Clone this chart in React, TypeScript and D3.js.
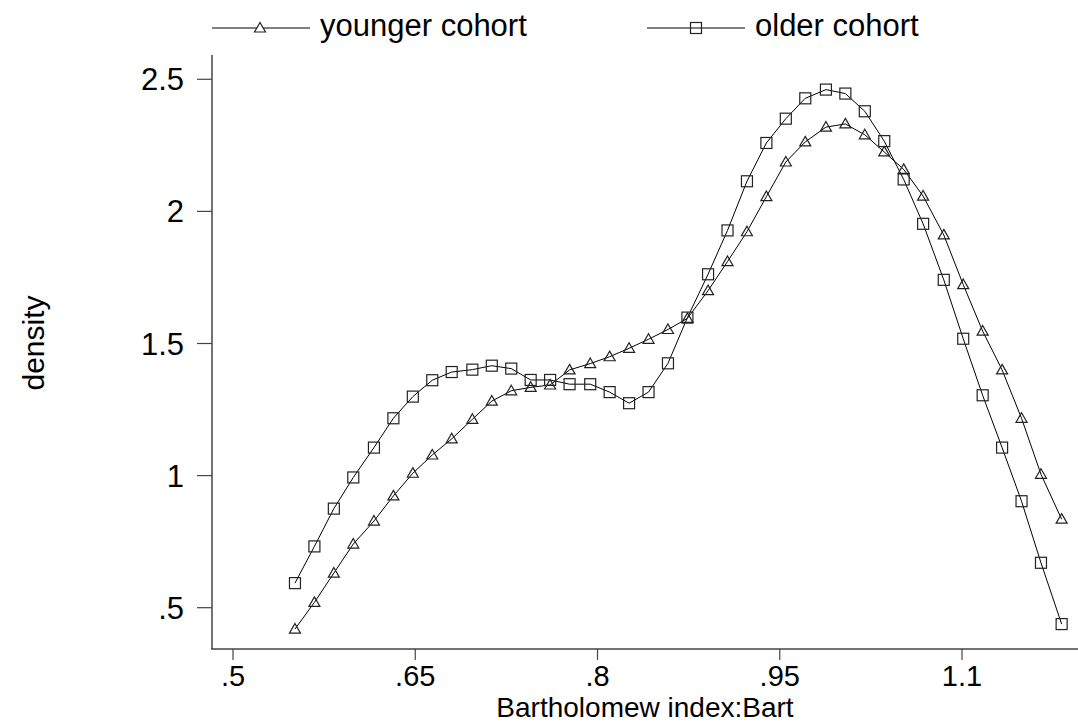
import React from "react";
import * as d3 from "d3";

const xGrid = [
  0.551, 0.567, 0.583, 0.599, 0.616, 0.632, 0.648, 0.664, 0.68, 0.697,
  0.713, 0.729, 0.745, 0.761, 0.777, 0.794, 0.81, 0.826, 0.842, 0.858,
  0.874, 0.891, 0.907, 0.923, 0.939, 0.955, 0.971, 0.988, 1.004, 1.02,
  1.036, 1.052, 1.068, 1.085, 1.101, 1.117, 1.133, 1.149, 1.165, 1.182,
];

const younger = [
  0.419, 0.52, 0.631, 0.741, 0.828, 0.923, 1.009, 1.078, 1.139, 1.213,
  1.282, 1.321, 1.334, 1.343, 1.4, 1.424, 1.45, 1.482, 1.516, 1.553,
  1.595, 1.7, 1.81, 1.923, 2.056, 2.187, 2.263, 2.319, 2.331, 2.29,
  2.225, 2.159, 2.058, 1.911, 1.723, 1.547, 1.4, 1.217, 1.005, 0.835,
];

const older = [
  0.593, 0.732, 0.875, 0.993, 1.106, 1.217, 1.299, 1.361, 1.392, 1.401,
  1.416, 1.405, 1.362, 1.362, 1.346, 1.346, 1.316, 1.274, 1.316, 1.425,
  1.598, 1.762, 1.928, 2.114, 2.259, 2.351, 2.428, 2.461, 2.446, 2.379,
  2.266, 2.121, 1.953, 1.741, 1.518, 1.304, 1.106, 0.903, 0.67, 0.438,
];

const xTicks = [0.5, 0.65, 0.8, 0.95, 1.1];
const xTickLabels = [".5", ".65", ".8", ".95", "1.1"];
const yTicks = [0.5, 1, 1.5, 2, 2.5];
const yTickLabels = [".5", "1", "1.5", "2", "2.5"];
const seriesNames = ["younger cohort", "older cohort"];

const W = 1078;
const H = 724;
const FONT = "'Liberation Sans', Arial, Helvetica, sans-serif";
const FS = 31;

const xS = d3.scaleLinear().domain([0.5, 1.1]).range([233, 962]);
const yS = d3.scaleLinear().domain([0.5, 2.5]).range([607.7, 79.3]);

const triPath = (cx: number, cy: number, s = 11) => {
  const h = s * 0.87;
  return `M${cx},${cy - h * 0.58}L${cx + s / 2},${cy + h * 0.42}L${cx - s / 2},${cy + h * 0.42}Z`;
};

const Square = ({ cx, cy, s = 11 }: { cx: number; cy: number; s?: number }) => (
  <rect x={cx - s / 2} y={cy - s / 2} width={s} height={s} fill="none" stroke="#222" strokeWidth={1.2} />
);

export default function App() {
  const line = d3
    .line<number>()
    .x((_, i) => xS(xGrid[i]))
    .y((d) => yS(d));

  const axisColor = "#444";
  return (
    <svg
      width={W}
      height={H}
      style={{ position: "absolute", left: 0, top: 0, background: "#fff" }}
      fontFamily={FONT}
    >
      <rect x={0} y={0} width={W} height={H} fill="#fff" />
      {/* legend */}
      <g>
        <line x1={212} x2={310} y1={28} y2={28} stroke="#000" strokeWidth={1} />
        <path d={triPath(260, 28)} fill="#fff" stroke="#222" strokeWidth={1.2} />
        <text x={320} y={36} fontSize={FS} fill="#000">{seriesNames[0]}</text>
        <line x1={647} x2={745} y1={28} y2={28} stroke="#000" strokeWidth={1} />
        <Square cx={696} cy={28} />
        <text x={755} y={36} fontSize={FS} fill="#000">{seriesNames[1]}</text>
      </g>
      {/* axes */}
      <line x1={212} x2={212} y1={55} y2={649.5} stroke={axisColor} strokeWidth={1.5} />
      <line x1={211.3} x2={1078} y1={649} y2={649} stroke={axisColor} strokeWidth={1.5} />
      {yTicks.map((t, i) => (
        <g key={"y" + i}>
          <line x1={197} x2={212} y1={yS(t)} y2={yS(t)} stroke={axisColor} strokeWidth={1.2} />
          <text x={184} y={yS(t) + 11} fontSize={FS} textAnchor="end" fill="#000">
            {yTickLabels[i]}
          </text>
        </g>
      ))}
      {xTicks.map((t, i) => (
        <g key={"x" + i}>
          <line x1={xS(t)} x2={xS(t)} y1={649} y2={660} stroke={axisColor} strokeWidth={1.2} />
          <text x={xS(t)} y={686} fontSize={29} textAnchor="middle" fill="#000">
            {xTickLabels[i]}
          </text>
        </g>
      ))}
      <text x={645} y={717} fontSize={28} textAnchor="middle" fill="#000">
        Bartholomew index:Bart
      </text>
      <text
        transform={`translate(44,343) rotate(-90)`}
        fontSize={30}
        textAnchor="middle"
        fill="#000"
      >
        density
      </text>
      {/* series */}
      <path d={line(younger) || ""} fill="none" stroke="#000" strokeWidth={1} />
      <path d={line(older) || ""} fill="none" stroke="#000" strokeWidth={1} />
      {younger.map((v, i) => (
        <path key={"t" + i} d={triPath(xS(xGrid[i]), yS(v))} fill="none" stroke="#222" strokeWidth={1.2} />
      ))}
      {older.map((v, i) => (
        <Square key={"s" + i} cx={xS(xGrid[i])} cy={yS(v)} />
      ))}
    </svg>
  );
}
